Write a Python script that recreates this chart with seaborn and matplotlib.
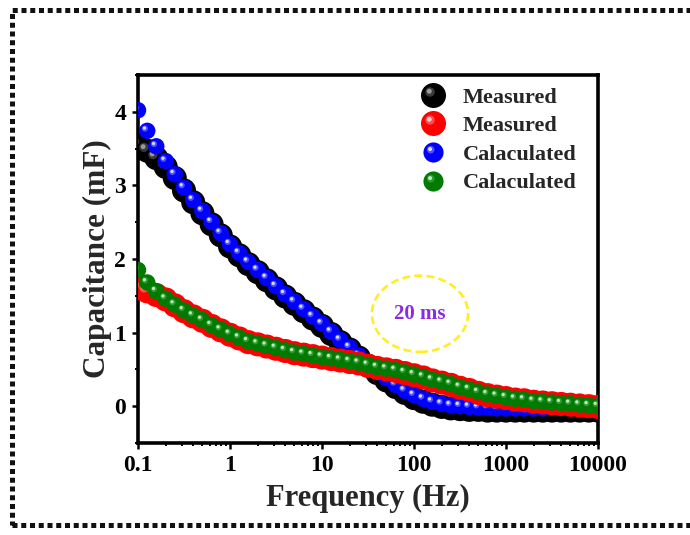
import numpy as np
import pandas as pd
import matplotlib
matplotlib.use("Agg")
import matplotlib.pyplot as plt
import seaborn as sns
from matplotlib.path import Path
from matplotlib.markers import MarkerStyle
from matplotlib.patches import Ellipse, Rectangle
from matplotlib.lines import Line2D
from matplotlib.ticker import FixedLocator, FixedFormatter, LogLocator, NullFormatter, MultipleLocator

# ---------------- data ----------------
freq = [0.1, 0.126, 0.158, 0.2, 0.251, 0.316, 0.398, 0.501, 0.631, 0.794,
        1, 1.26, 1.58, 2, 2.51, 3.16, 3.98, 5.01, 6.31, 7.94,
        10, 12.6, 15.8, 20, 25.1, 31.6, 39.8, 50.1, 63.1, 79.4,
        100, 126, 158, 200, 251, 316, 398, 501, 631, 794,
        1000, 1260, 1580, 2000, 2510, 3160, 3980, 5010, 6310, 7940, 10000]

measured_1 = [3.55, 3.47, 3.37, 3.25, 3.10, 2.93, 2.77, 2.62, 2.47, 2.32,
              2.17, 2.05, 1.93, 1.82, 1.71, 1.60, 1.49, 1.39, 1.29, 1.19,
              1.09, 0.98, 0.87, 0.77, 0.66, 0.55, 0.45, 0.35, 0.26, 0.18,
              0.11, 0.06, 0.02, -0.01, -0.03, -0.04, -0.05, -0.05, -0.06, -0.06,
              -0.06, -0.06, -0.06, -0.06, -0.06, -0.06, -0.06, -0.06, -0.06, -0.06, -0.06]

calculated_1 = [4.02, 3.74, 3.53, 3.33, 3.15, 2.97, 2.80, 2.65, 2.50, 2.35,
                2.20, 2.08, 1.96, 1.85, 1.74, 1.63, 1.52, 1.42, 1.32, 1.22,
                1.12, 1.01, 0.90, 0.80, 0.69, 0.58, 0.48, 0.38, 0.29, 0.21,
                0.15, 0.10, 0.06, 0.03, 0.01, 0.00, -0.01, -0.02, -0.02, -0.03,
                -0.03, -0.03, -0.03, -0.03, -0.03, -0.02, -0.02, -0.02, -0.02, -0.02, -0.02]

measured_2 = [1.60, 1.56, 1.51, 1.45, 1.37, 1.29, 1.22, 1.16, 1.09, 1.03,
              0.97, 0.92, 0.87, 0.84, 0.81, 0.78, 0.75, 0.72, 0.70, 0.68,
              0.66, 0.64, 0.62, 0.60, 0.58, 0.55, 0.52, 0.50, 0.48, 0.45,
              0.42, 0.39, 0.35, 0.32, 0.29, 0.25, 0.22, 0.18, 0.15, 0.13,
              0.11, 0.09, 0.08, 0.06, 0.05, 0.04, 0.03, 0.02, 0.01, 0.00, -0.01]

calculated_2 = [1.85, 1.68, 1.56, 1.46, 1.38, 1.30, 1.23, 1.17, 1.10, 1.04,
                0.98, 0.93, 0.88, 0.85, 0.82, 0.79, 0.76, 0.73, 0.71, 0.69,
                0.67, 0.65, 0.63, 0.61, 0.59, 0.56, 0.53, 0.51, 0.49, 0.46,
                0.43, 0.40, 0.36, 0.33, 0.30, 0.26, 0.23, 0.19, 0.16, 0.14,
                0.12, 0.10, 0.09, 0.07, 0.06, 0.05, 0.04, 0.03, 0.02, 0.01, 0.00]

x_ticks = [0.1, 1, 10, 100, 1000, 10000]
x_tick_labels = ["0.1", "1", "10", "100", "1000", "10000"]
y_ticks = [0, 1, 2, 3, 4]
annotation = "20 ms"

# ---------------- style ----------------
sns.set_theme(style="white")
plt.rcParams['font.family'] = ['Liberation Serif', 'DejaVu Serif']
plt.rcParams['font.weight'] = 'bold'
plt.rcParams['axes.labelweight'] = 'bold'

fig = plt.figure(figsize=(6.9, 5.35), dpi=100)
fig.patch.set_facecolor('white')
ax = fig.add_axes([0.2, 0.172, 0.6667, 0.688])


def spot(d, r):
    # circle centred d up and d left of the marker centre; the lone MOVETO
    # corners keep matplotlib's marker normalisation at the unit size
    return MarkerStyle(Path.make_compound_path(
        Path.circle((-d, d), r),
        Path([(0.5, 0.5)], [Path.MOVETO]),
        Path([(-0.5, -0.5)], [Path.MOVETO]),
    ))


glow = spot(0.14, 0.19)   # soft, larger halo
core = spot(0.17, 0.10)   # bright core

df = pd.DataFrame({"freq": freq, "m1": measured_1, "c1": calculated_1,
                   "m2": measured_2, "c2": calculated_2})

# drawing order (bottom to top): measured 1, calculated 1, measured 2, calculated 2
specs = {  # column: (label, color, glow color, core color, size pt^2)
    "m1": ("Measured", "#000000", "#3a3a3a", "#9a9a9a", 300),
    "c1": ("Calaculated", "#0000ff", "#5050ff", "#dcdcff", 140),
    "m2": ("Measured", "#ff0000", "#ff4a4a", "#ffc8c8", 300),
    "c2": ("Calaculated", "#007a00", "#329a32", "#bfe8bf", 140),
}
z = 3
for col in ["m1", "c1", "m2", "c2"]:
    lab, c, gc, hc, s = specs[col]
    sns.scatterplot(data=df, x="freq", y=col, color=c, s=s, edgecolor="none",
                    linewidth=0, ax=ax, zorder=z, legend=False)
    sns.scatterplot(data=df, x="freq", y=col, color=gc, s=s, marker=glow,
                    edgecolor="none", linewidth=0, ax=ax, zorder=z + 0.3, legend=False)
    sns.scatterplot(data=df, x="freq", y=col, color=hc, s=s, marker=core,
                    edgecolor="none", linewidth=0, ax=ax, zorder=z + 0.6, legend=False)
    z += 1

ax.set_xscale("log")
ax.set_xlim(0.1, 10000)
ax.set_ylim(-0.5, 4.5)
ax.xaxis.set_major_locator(FixedLocator(x_ticks))
ax.xaxis.set_major_formatter(FixedFormatter(x_tick_labels))
ax.xaxis.set_minor_locator(LogLocator(base=10, subs=np.arange(2, 10)))
ax.xaxis.set_minor_formatter(NullFormatter())
ax.yaxis.set_major_locator(FixedLocator(y_ticks))
ax.yaxis.set_minor_locator(MultipleLocator(0.5))

for sp in ax.spines.values():
    sp.set_linewidth(2.6)
    sp.set_color("black")
ax.tick_params(which="major", direction="out", length=4.5, width=1.8,
               labelsize=17, colors="black", pad=4)
ax.tick_params(which="minor", direction="out", length=2.5, width=1.4, colors="black")
ax.tick_params(axis="x", which="both", bottom=True)
ax.tick_params(axis="y", which="both", left=True)
for t in ax.get_xticklabels() + ax.get_yticklabels():
    t.set_fontweight("bold")

ax.set_xlabel("Frequency (Hz)", fontsize=22, fontweight="bold", labelpad=6)
ax.set_ylabel("Capacitance (mF)", fontsize=22.5, fontweight="bold", labelpad=2)

# legend (order: measured 1, measured 2, calculated 1, calculated 2)
handles, labels = [], []
for col in ["m1", "m2", "c1", "c2"]:
    lab, c, gc, hc, s = specs[col]
    ms = 18 if col.startswith("m") else 14.5
    h1 = Line2D([], [], ls="none", marker="o", markersize=ms, color=c, mec="none")
    h2 = Line2D([], [], ls="none", marker=glow, markersize=ms, color=gc, mec="none")
    h3 = Line2D([], [], ls="none", marker=core, markersize=ms, color=hc, mec="none")
    handles.append((h1, h2, h3))
    labels.append(lab)
leg = ax.legend(handles, labels, loc="upper right", bbox_to_anchor=(0.98, 1.0),
                frameon=False,
                prop={"family": "Liberation Serif", "weight": "bold", "size": 16},
                handlelength=1.2, handletextpad=0.75, labelspacing=0.36,
                borderaxespad=0.15)
leg.set_zorder(20)

# annotation ellipse
ax.add_patch(Ellipse((0.613, 0.351), 0.209, 0.207, transform=ax.transAxes,
                     fill=False, edgecolor="#ffee22", linestyle=(0, (3, 1.6)),
                     linewidth=1.9, zorder=10))
ax.text(0.613, 0.35, annotation, transform=ax.transAxes, ha="center", va="center",
        fontsize=15, fontweight="bold", color="#8a2be2", zorder=11)

# dotted figure border
fig.patches.append(Rectangle((12 / 690, 10 / 535), 1.1, 1 - 20 / 535,
                             transform=fig.transFigure, fill=False,
                             edgecolor="#111111", linewidth=3.6,
                             linestyle=(0, (1, 0.75)), capstyle="butt"))

fig.savefig("out.png", dpi=100, facecolor="white")
